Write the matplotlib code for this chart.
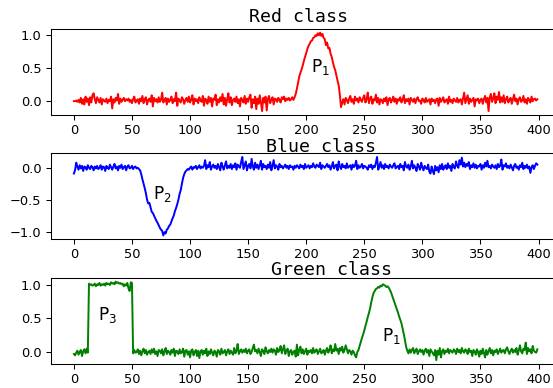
import numpy as np
import matplotlib
matplotlib.use("Agg")
import matplotlib.pyplot as plt

# signal values for each class, in hundredths
red = [
    -1, -1, 0, -2, 1, -3, 4, -5, 2, -6, 6, -2, 3, -7, 5, -3, 8, 11, 2, -4,
    5, 1, -3, 4, -6, 2, 0, -2, 3, -4, 1, -1, 6, -12, 2, -3, 4, 0, 10, -5,
    3, -2, 1, 4, -1, 2, 0, 3, -2, 1, -4, 2, 6, -3, 0, 2, -5, 3, -1, 7,
    -4, 2, 5, -6, 1, 3, -2, 8, -9, 4, -1, 2, -3, 5, -2, 1, 12, -3, 0, 4,
    -6, 3, -2, 1, 6, -4, 2, -1, 12, -8, 3, 0, -3, 5, 2, -5, 1, 4, -2, 6,
    -3, 1, 8, -6, 3, -1, 2, -4, 5, 0, -2, 7, -8, 3, 1, -5, 6, -2, 4, -9,
    3, 1, 9, -7, 2, -3, 5, -1, 10, -6, 4, -8, 2, 11, -3, 5, -7, 1, 3, -2,
    6, -4, 2, -9, 4, 1, -3, 7, -5, 3, -2, 5, 9, -11, 2, -4, 6, -13, 3, -5,
    8, -2, -16, 4, -3, 6, -15, 2, 7, -4, 1, 5, -6, 3, 2, -2, 4, 1, -3, 5,
    2, 6, -1, 3, 1, 4, 0, 2, 5, 1, 5, 10, 18, 27, 36, 42, 47, 53, 60, 66,
    72, 78, 83, 86, 90, 91, 95, 96, 99, 98, 102, 99, 103, 98, 101, 95, 93, 84, 88, 79,
    80, 71, 66, 58, 51, 46, 38, 30, 23, 8, -10, -3, 2, -6, 4, 1, -4, 3, 7, -2,
    2, -5, 6, 0, 3, -3, 5, 1, -2, 4, 8, -3, 2, 12, -4, 3, 6, -5, 2, 0,
    9, -3, 4, -6, 2, 1, -4, 3, -1, 5, -7, 2, 4, -3, 1, 6, -2, 3, -5, 2,
    0, 5, -3, 1, 8, -4, 2, -1, 3, -6, 4, 1, -2, 3, -4, 2, 5, -1, 0, -5,
    3, 1, -3, 4, -2, 0, 2, -6, 3, -1, 1, -4, 2, 3, -8, 4, -2, 1, 5, -3,
    0, 2, -5, 6, -2, 1, -4, 3, 0, -2, 4, -3, 1, 2, -6, 3, 12, -4, 2, 8,
    -5, 3, -2, 1, 4, -9, 2, 0, 3, -4, 1, 3, -5, 2, 7, -3, 4, -16, 5, 10,
    -2, 3, 11, -4, 6, 1, 13, -3, 5, -2, 8, -4, 2, 6, -3, 1, 4, -5, 2, 9,
    -1, 3, -6, 2, 5, -2, 0, 7, -3, 2, -5, 4, 1, -3, 6, -1, 2, 3, 0, 2,
]

blue = [
    -9, -4, 8, 2, -3, 4, -1, 3, -5, 2, 1, -3, 4, 0, -2, 3, 1, -4, 2, -1,
    3, -2, 0, 4, -3, 2, 1, -5, 3, 0, -2, 5, 1, -3, 2, 6, -1, 2, -4, 3,
    0, 5, -2, 1, 3, -4, 2, 4, -1, 0, 3, -2, 1, 2, -1, 0, -2, -4, -10, -18,
    -25, -32, -40, -50, -56, -55, -62, -69, -71, -75, -79, -83, -86, -90, -94, -97, -99, -106, -101, -103,
    -97, -95, -91, -89, -84, -79, -75, -68, -63, -57, -50, -41, -35, -25, -16, -10, -6, -4, -2, -3,
    0, 2, -3, 1, 0, 3, -2, 1, 4, -1, 2, 0, 3, 12, -2, 4, 1, 9, -3, 2,
    5, 0, 3, -2, 6, 1, -4, 8, 2, -3, 4, 10, -1, 3, 0, 6, -2, 4, 1, 7,
    -3, 5, 2, 0, 9, 17, -2, 4, 10, -4, 3, 6, -1, 14, 2, -3, 8, 0, 5, -2,
    4, 11, -3, 6, 1, 3, -2, 5, 0, 9, -4, 3, 12, -1, 4, 2, -3, 6, 1, 3,
    -1, 2, 5, 0, 3, -2, 4, 1, 2, -3, 3, 0, 4, 2, -1, 5, 1, 3, -2, 6,
    0, 2, 4, -1, 3, 1, 7, 2, 0, 5, 3, 1, 8, -2, 4, 2, 0, 3, 6, 1,
    4, -3, 2, 9, -1, 3, 5, -4, 10, 2, -2, 6, 1, 3, -1, 7, 0, 2, 4, -3,
    5, 1, 3, 11, -2, 4, 0, 2, 6, -1, 3, 2, 0, -3, 4, 1, 5, -2, 3, 1,
    8, 17, -3, 2, 9, 0, 4, -2, 6, 1, 3, -1, 5, 2, 0, 4, 7, -1, 2, 3,
    -2, 6, 1, 3, -4, 9, 2, 0, 5, -3, 2, 11, -1, 4, 0, -5, 6, 2, -3, 8,
    1, -4, 3, 0, -2, 5, -6, -9, 2, -5, -10, 3, -4, 1, -7, 4, -2, 6, -3, 1,
    4, -2, 7, 0, 3, -5, 6, 1, -1, 10, 3, 0, 12, 5, 16, 2, 8, 1, 6, 3,
    9, -2, 4, 1, 7, 0, 5, -1, 3, 2, 6, -3, 4, 0, 8, 2, 11, 1, 3, -1,
    5, 2, 0, 4, -2, 6, 1, 3, 13, -3, 4, 2, 7, 0, 3, -1, 5, 1, -4, 3,
    6, 0, 2, -3, 4, 1, 8, -2, 3, 0, 5, -1, 2, -8, 1, 4, -2, 3, 7, 5,
]

green = [
    -3, -5, -1, 2, -4, 0, 3, -6, 1, 4, -2, 5, -1, 102, 100, 101, 99, 100, 102, 98,
    101, 100, 103, 99, 101, 100, 102, 99, 103, 101, 102, 100, 104, 102, 103, 101, 105, 103, 104, 102,
    103, 101, 102, 98, 101, 99, 103, 95, 91, 104, 103, -2, 3, -1, 0, 4, -3, 2, -5, 1,
    5, -2, 3, -4, 0, 2, -3, 4, -1, 5, -3, 1, -6, 3, 2, -2, 4, -5, 1, 6,
    -3, 2, 0, -4, 3, -1, 5, -6, 2, 1, -3, 4, -2, 0, 5, -7, 2, 3, -4, 1,
    -8, 2, 4, -5, 0, 3, -6, 2, -9, 1, 3, -4, 2, -2, 5, -6, 1, -3, 4, -1,
    -5, 2, 0, -7, 3, 1, -4, 5, -2, 0, 3, -5, 1, 4, -3, 2, -1, -4, 6, -2,
    2, 12, -3, 1, 4, -1, 3, 0, 5, -2, 2, 4, -3, 0, 6, 11, 1, 3, -2, 5,
    0, -6, 4, 2, -3, 7, 1, -2, 3, 0, 5, -1, 4, 2, -4, 6, 0, 3, 9, -2,
    4, 10, -3, 2, 5, -6, 1, 3, -4, 0, 2, -7, 11, -5, 3, 8, -2, 4, -3, 1,
    5, -4, 2, 0, 3, -2, 6, -1, 2, 4, -3, 1, 5, -2, 0, 3, -4, 2, 6, -1,
    3, 10, -2, 4, 1, 12, 2, 5, -3, 6, 2, 8, -1, 3, 10, 4, -2, 3, 1, -4,
    2, 0, -5, -8, 0, 3, 9, 15, 21, 26, 32, 39, 45, 52, 58, 65, 74, 82, 88, 91,
    94, 95, 97, 96, 99, 98, 101, 100, 99, 97, 98, 96, 93, 89, 84, 79, 74, 69, 64, 59,
    53, 48, 43, 35, 27, 18, 8, 2, -2, 4, -1, 3, 6, -2, 2, 5, -3, 1, 4, 0,
    3, -4, 2, 5, -1, 3, -6, 4, 1, -2, -5, 3, -12, 2, -4, 6, -8, 1, 4, -3,
    2, 0, 5, -2, 3, 1, -1, 4, 2, -3, 5, 0, 3, -2, 6, 1, -1, 4, 2, -3,
    5, 0, 2, -6, 3, 1, -4, 4, 0, -7, 2, -3, 5, -1, -8, 3, -4, 1, 6, -2,
    3, -5, 2, 0, 4, -3, 1, 5, -1, 2, 3, -2, 4, 7, 1, -3, 2, 5, -1, 3,
    0, 6, -4, 2, 10, 1, -2, 5, 3, 14, -3, 6, 1, 4, -2, 9, 2, 0, -1, 4,
]

titles = ["Red class", "Blue class", "Green class"]
colors = ["r", "b", "g"]

# peak labels: (text, x, y) in data units
red_labels = [("P$_1$", 204, 0.44)]
blue_labels = [("P$_2$", 68, -0.49)]
green_labels = [("P$_3$", 21, 0.48), ("P$_1$", 265, 0.17)]

DPI = 94
fig = plt.figure(figsize=(553 / DPI, 388 / DPI), dpi=DPI)

left, width, height = 0.0917, 0.9219, 0.2224
bottoms = [0.7036, 0.3832, 0.0619]
title_pos = [(0.487, 1.081), (0.530, 1.012), (0.550, 1.031)]

series = [red, blue, green]
labels = [red_labels, blue_labels, green_labels]

for vals, col, ttl, tpos, labs, b in zip(series, colors, titles, title_pos, labels, bottoms):
    ax = fig.add_axes([left, b, width, height])
    y = np.array(vals) / 100.0
    x = np.arange(len(y))
    ax.plot(x, y, color=col, lw=1.5)
    ax.tick_params(labelsize=10)
    ax.text(tpos[0], tpos[1], ttl, transform=ax.transAxes, ha="center",
            va="baseline", family="DejaVu Sans Mono", fontsize=14)
    for txt, lx, ly in labs:
        ax.text(lx, ly, txt, fontsize=13, ha="left", va="baseline")

fig.savefig("out.png", dpi=DPI)
